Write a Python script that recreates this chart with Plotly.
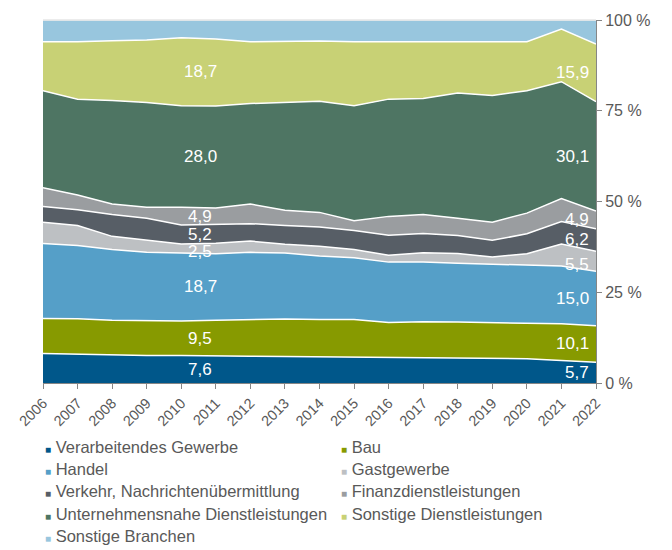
import plotly.graph_objects as go

years = list(range(2006, 2023))

verarbeitendes = [8.1, 7.9, 7.7, 7.6, 7.6, 7.4, 7.4, 7.3, 7.2, 7.1, 7.0, 6.9, 6.8, 6.7, 6.7, 6.2, 5.7]
bau = [9.7, 9.8, 9.6, 9.5, 9.5, 9.9, 10.1, 10.3, 10.3, 10.4, 9.7, 10.0, 10.0, 10.0, 9.9, 10.1, 10.1]
handel = [20.6, 20.2, 19.5, 18.9, 18.7, 18.3, 18.5, 18.2, 17.5, 17.0, 16.6, 16.4, 16.2, 16.0, 16.0, 15.9, 15.0]
gastgewerbe = [5.9, 5.5, 3.6, 3.3, 2.5, 2.9, 3.1, 2.4, 2.7, 2.3, 1.9, 2.6, 2.7, 2.0, 3.0, 6.1, 5.5]
verkehr = [4.3, 4.3, 6.0, 6.1, 5.2, 5.2, 4.8, 5.2, 5.3, 5.2, 5.5, 5.3, 4.9, 4.6, 5.5, 6.2, 6.2]
finanz = [5.2, 4.1, 2.9, 3.0, 4.9, 4.5, 5.4, 4.2, 4.0, 2.7, 5.2, 5.2, 4.8, 5.0, 5.7, 6.3, 4.9]
unternehmensnahe = [26.7, 26.4, 28.5, 28.9, 28.0, 28.1, 27.7, 29.7, 30.6, 31.7, 32.3, 32.0, 34.5, 34.9, 33.7, 32.2, 30.1]
sonstige_dl = [13.5, 15.8, 16.5, 17.2, 18.7, 18.5, 17.0, 16.9, 16.6, 17.6, 15.8, 15.6, 14.1, 14.8, 13.5, 14.5, 15.9]
sonstige_branchen = [6.0, 6.0, 5.7, 5.5, 4.9, 5.2, 6.0, 5.8, 5.8, 6.0, 6.0, 6.0, 6.0, 6.0, 6.0, 2.5, 6.6]

names = ["Verarbeitendes Gewerbe", "Bau", "Handel", "Gastgewerbe",
         "Verkehr, Nachrichtenübermittlung", "Finanzdienstleistungen",
         "Unternehmensnahe Dienstleistungen", "Sonstige Dienstleistungen",
         "Sonstige Branchen"]
series = [verarbeitendes, bau, handel, gastgewerbe, verkehr, finanz,
          unternehmensnahe, sonstige_dl, sonstige_branchen]
colors = ["#00578A", "#879A00", "#559FC8", "#BDC0C3", "#575E66",
          "#9A9DA0", "#4E7563", "#C8D175", "#98C6DE"]

# series indices that carry value labels in 2010 and 2022
labelled = [0, 1, 2, 3, 4, 5, 6, 7]
label_y_shift = {3: -0.9}

fig = go.Figure()
for name, vals, col in zip(names, series, colors):
    fig.add_trace(go.Scatter(
        x=years, y=vals, name=name, mode="lines", stackgroup="one",
        fillcolor=col, line=dict(color="white", width=1.5),
        showlegend=False, hoverinfo="x+y+name"))

def fmt(v):
    return f"{v:.1f}".replace(".", ",")

annotations = []
for idx_year, xpos, anchor, shift in [(years.index(2010), 2010.55, "center", 0),
                                      (years.index(2022), 2022, "right", -5)]:
    base = 0.0
    for i, vals in enumerate(series):
        v = vals[idx_year]
        if i in labelled:
            annotations.append(dict(
                x=xpos, y=base + v / 2 + label_y_shift.get(i, 0), xref="x", yref="y",
                text=fmt(v), showarrow=False, xanchor=anchor, xshift=shift,
                font=dict(color="white", size=17, family="Liberation Sans, Arial")))
        base += v

# two-column legend below the chart
col_x = [0.0, 0.535]
row_y = [-0.1776, -0.2377, -0.2978, -0.3607, -0.4208]
for k, (name, col) in enumerate(zip(names, colors)):
    r, c = divmod(k, 2)
    annotations.append(dict(
        x=col_x[c], y=row_y[r], xref="paper", yref="paper",
        xanchor="left", yanchor="middle", showarrow=False,
        text=f'<span style="color:{col};font-size:10px">■</span> {name}',
        font=dict(color="#595959", size=16.5, family="Liberation Sans, Arial")))

fig.update_layout(
    width=672, height=550,
    margin=dict(l=43, r=76, t=17, b=167),
    paper_bgcolor="white", plot_bgcolor="white",
    font=dict(family="Liberation Sans, Arial", color="#595959"),
    annotations=annotations,
    shapes=[dict(type="line", xref="paper", yref="paper", x0=0, x1=1, y0=1, y1=1,
                 line=dict(color="#D9D9D9", width=1))],
    xaxis=dict(range=[2006, 2022], tickvals=years, ticktext=[str(y) for y in years],
               tickangle=-45, ticks="outside", ticklen=5, tickcolor="#868686",
               showline=True, linecolor="#868686", linewidth=1,
               showgrid=False, zeroline=False,
               tickfont=dict(size=14.5, color="#595959")),
    yaxis=dict(range=[0, 100], side="right", tickvals=[0, 25, 50, 75, 100],
               ticktext=["0 %", "25 %", "50 %", "75 %", "100 %"],
               ticks="outside", ticklen=5, tickcolor="#868686",
               showline=True, linecolor="#868686", linewidth=1,
               showgrid=False, zeroline=False,
               tickfont=dict(size=16, color="#595959")),
)

fig.write_html("out.html")
